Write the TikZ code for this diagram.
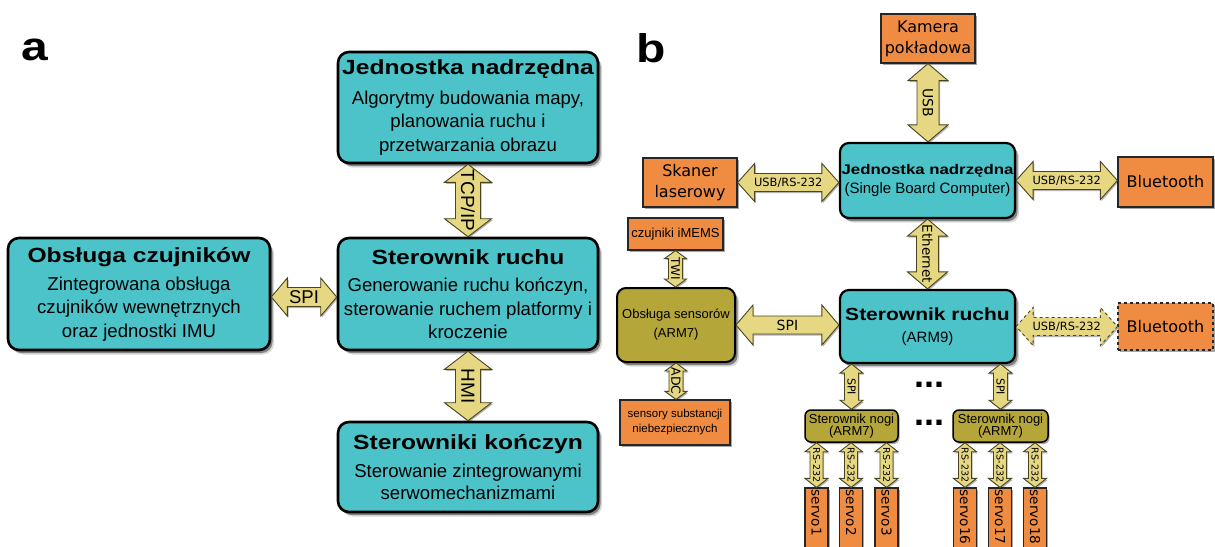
\documentclass[tikz,border=0pt]{standalone}
\usepackage{fontspec}
\setmainfont{Liberation Sans}
\newfontfamily\hd{Liberation Sans}[FakeStretch=1.2]
\newfontfamily\dv{DejaVu Sans}
\usetikzlibrary{shadows,calc}
\definecolor{cyanb}{HTML}{4BC3C9}
\definecolor{orng}{HTML}{F08C41}
\definecolor{olv}{HTML}{B5A63A}
\definecolor{arrf}{HTML}{E6D883}
\definecolor{arrd}{HTML}{4A4420}
\tikzset{
  shd/.style={drop shadow={shadow xshift=2.5pt,shadow yshift=-3pt,opacity=.4,fill=black},
              drop shadow={shadow xshift=4pt,shadow yshift=-4.5pt,opacity=.15,fill=black}},
  shds/.style={drop shadow={shadow xshift=1.5pt,shadow yshift=-2pt,opacity=.35,fill=black}},
  cboxa/.style={shd,draw=black,fill=cyanb,line width=2.6pt,rounded corners=11pt,inner sep=0pt,align=center,
                font=\fontsize{18.6}{23.5}\selectfont},
  cboxb/.style={shd,draw=black,fill=cyanb,line width=2.2pt,rounded corners=9pt,inner sep=0pt,align=center,
                font=\fontsize{15}{19}\selectfont},
  olbox/.style={shd,draw=black,fill=olv,line width=2pt,rounded corners=9pt,inner sep=0pt,align=center,
                font=\fontsize{13}{19}\selectfont},
  olboxs/.style={shds,draw=black,fill=olv,line width=1.5pt,rounded corners=6pt,inner sep=0pt,align=center,
                font=\fontsize{13}{12.5}\selectfont},
  obox/.style={shds,draw=black!85,fill=orng,line width=1.2pt,inner sep=0pt,align=center,
               font=\dv\fontsize{16}{21}\selectfont},
  oboxs/.style={shds,draw=black!85,fill=orng,line width=1.2pt,inner sep=0pt,align=center,
               font=\fontsize{13}{15}\selectfont},
  arr/.style={fill=arrf,draw=arrd,line width=0.9pt,line join=miter,
              drop shadow={shadow xshift=1.2pt,shadow yshift=-1.5pt,opacity=.3,fill=black}},
  lbl/.style={inner sep=0pt,font=\hd\bfseries\fontsize{40}{40}\selectfont},
  dots/.style={inner sep=0pt,font=\bfseries\fontsize{36}{36}\selectfont},
  servo/.style={shds,draw=black!85,fill=orng,line width=1.2pt,inner sep=0pt,minimum width=23,minimum height=80},
  servotxt/.style={inner sep=0pt,rotate=-90,anchor=west,font=\dv\fontsize{13.6}{14}\selectfont}
}
% vertical block double arrow: [opts]{top}{bottom}{head half}{shaft half}{head len}{font}{label}{name}
\newcommand\varrow[9][]{%
  \draw[arr,#1] let \p1=(#2), \p2=(#3) in
    (\x1,\y1) -- (\x1+#4,\y1-#6) -- (\x1+#5,\y1-#6) -- (\x1+#5,\y2+#6) -- (\x1+#4,\y2+#6) -- (\x1,\y2)
    -- (\x1-#4,\y2+#6) -- (\x1-#5,\y2+#6) -- (\x1-#5,\y1-#6) -- (\x1-#4,\y1-#6) -- cycle;
  \path let \p1=(#2), \p2=(#3) in node[rotate=-90,inner sep=0pt,font=#7] (#9) at (\x1,{0.5*(\y1+\y2)}) {#8};
}
% horizontal block double arrow: [opts]{left}{right}{head half}{shaft half}{head len}{font}{label}{name}
\newcommand\harrow[9][]{%
  \draw[arr,#1] let \p1=(#2), \p2=(#3) in
    (\x1,\y1) -- (\x1+#6,\y1+#4) -- (\x1+#6,\y1+#5) -- (\x2-#6,\y1+#5) -- (\x2-#6,\y1+#4) -- (\x2,\y1)
    -- (\x2-#6,\y1-#4) -- (\x2-#6,\y1-#5) -- (\x1+#6,\y1-#5) -- (\x1+#6,\y1-#4) -- cycle;
  \path let \p1=(#2), \p2=(#3) in node[inner sep=0pt,font=#7] (#9) at ({0.5*(\x1+\x2)},\y1) {#8};
}
\begin{document}
\begin{tikzpicture}[x=1pt,y=-1pt]
\useasboundingbox (0,0) rectangle (1215,546);
\clip (0,0) rectangle (1215,546);
% ---------------- panel a ----------------
\node[lbl] (la) at (35,50) {a};
\node[cboxa,minimum width=260,minimum height=111] (topA) at (468,107.5)
  {{\hd\bfseries\fontsize{20.5}{24}\selectfont Jednostka nadrzędna}\\[6pt]Algorytmy budowania mapy,\\planowania ruchu i\\przetwarzania obrazu};
\node[cboxa,minimum width=260,minimum height=112] (midA) at (468,294)
  {{\hd\bfseries\fontsize{20.5}{24}\selectfont Sterownik ruchu}\\[4pt]Generowanie ruchu kończyn,\\sterowanie ruchem platformy i\\kroczenie};
\node[cboxa,minimum width=262,minimum height=112] (leftA) at (139,294)
  {{\hd\bfseries\fontsize{20.5}{24}\selectfont Obsługa czujników}\\[4.5pt]Zintegrowana obsługa\\czujników wewnętrznych\\oraz jednostki IMU};
\node[cboxa,minimum width=260,minimum height=90,font=\fontsize{18.6}{22}\selectfont] (botA) at (468,467)
  {{\hd\bfseries\fontsize{20.5}{24}\selectfont Sterowniki kończyn}\\[6pt]Sterowanie zintegrowanymi\\serwomechanizmami};
\varrow{topA.south}{midA.north}{23.5pt}{12.5pt}{18pt}{\fontsize{19}{19}\selectfont}{TCP/IP}{tTCP}
\varrow{midA.south}{botA.north}{23.5pt}{12.5pt}{18pt}{\fontsize{19}{19}\selectfont}{HMI}{tHMI}
\harrow{$(leftA.east)+(0,3)$}{$(midA.west)+(0,3)$}{19pt}{9.5pt}{16pt}{\fontsize{18.5}{18.5}\selectfont}{SPI}{tSPIa}
% ---------------- panel b ----------------
\node[lbl] (lb) at (651,48) {b};
\node[obox,minimum width=94,minimum height=49] (kam) at (928,38.5) {Kamera\\pokładowa};
\node[cboxb,minimum width=175,minimum height=75] (jb) at (927.5,180.5)
  {{\hd\bfseries\fontsize{14}{16}\selectfont Jednostka nadrzędna}\\(Single Board Computer)};
\node[obox,minimum width=94,minimum height=49] (skan) at (690,182.5) {Skaner\\laserowy};
\node[obox,minimum width=95,minimum height=50] (bt1) at (1165.5,182) {Bluetooth};
\node[oboxs,minimum width=95,minimum height=32] (imems) at (675.5,234) {czujniki iMEMS};
\node[olbox,minimum width=118,minimum height=74] (obs) at (676,325) {Obsługa sensorów\\(ARM7)};
\node[cboxb,minimum width=175,minimum height=73] (srb) at (927.5,326.5)
  {{\hd\bfseries\fontsize{17.5}{20}\selectfont Sterownik ruchu}\\[3pt](ARM9)};
\node[obox,dashed,minimum width=95,minimum height=47] (bt2) at (1165.5,326.5) {Bluetooth};
\node[oboxs,minimum width=110,minimum height=45,font=\fontsize{11.5}{15}\selectfont] (sens) at (675,422.5)
  {sensory substancji\\niebezpiecznych};
\node[olboxs,minimum width=93,minimum height=32] (ngL) at (851.5,426) {Sterownik nogi\\(ARM7)};
\node[olboxs,minimum width=95,minimum height=32] (ngR) at (1000.5,426) {Sterownik nogi\\(ARM7)};
\node[dots] (d1) at (929,385) {...};
\node[dots] (d2) at (929,423) {...};
\node[servo] (s1) at (816.5,528) {};
\node[servo] (s2) at (851,528) {};
\node[servo] (s3) at (886.5,528) {};
\node[servo] (s16) at (965,528) {};
\node[servo] (s17) at (1000,528) {};
\node[servo] (s18) at (1035,528) {};
\node[servotxt] (t1) at ([yshift=-2pt]s1.north) {servo1};
\node[servotxt] (t2) at ([yshift=-2pt]s2.north) {servo2};
\node[servotxt] (t3) at ([yshift=-2pt]s3.north) {servo3};
\node[servotxt] (t16) at ([yshift=-2pt]s16.north) {servo16};
\node[servotxt] (t17) at ([yshift=-2pt]s17.north) {servo17};
\node[servotxt] (t18) at ([yshift=-2pt]s18.north) {servo18};
% arrows b
\varrow{kam.south}{jb.north}{20pt}{11pt}{17pt}{\dv\fontsize{14}{14}\selectfont}{USB}{tUSB}
\harrow{skan.east}{jb.west}{19pt}{9pt}{17pt}{\dv\fontsize{11.4}{12}\selectfont}{USB/RS-232}{tUR1}
\harrow{jb.east}{bt1.west}{19pt}{9pt}{17pt}{\dv\fontsize{11.4}{12}\selectfont}{USB/RS-232}{tUR2}
\varrow{jb.south}{srb.north}{20pt}{11pt}{17pt}{\dv\fontsize{13.5}{14}\selectfont}{Ethernet}{tEth}
\varrow{imems.south}{imems.south |- obs.north}{11pt}{7pt}{8pt}{\dv\fontsize{12}{12}\selectfont}{TWI}{tTWI}
\harrow{obs.east}{srb.west}{20pt}{9pt}{17pt}{\dv\fontsize{14}{14}\selectfont}{SPI}{tSPIb}
\harrow[dashed]{srb.east}{bt2.west}{19pt}{9pt}{17pt}{\dv\fontsize{11.4}{12}\selectfont}{USB/RS-232}{tUR3}
\varrow{obs.south}{obs.south |- sens.north}{11pt}{7pt}{8pt}{\dv\fontsize{12.5}{12}\selectfont}{ADC}{tADC}
\varrow{ngL.north |- srb.south}{ngL.north}{11.5pt}{7pt}{9pt}{\dv\fontsize{11}{11}\selectfont}{SPI}{tSPIL}
\varrow{ngR.north |- srb.south}{ngR.north}{11.5pt}{7pt}{9pt}{\dv\fontsize{11}{11}\selectfont}{SPI}{tSPIR}
\varrow{s1.north |- ngL.south}{s1.north}{11.5pt}{6.5pt}{9pt}{\dv\fontsize{9.5}{10}\selectfont}{RS-232}{r1}
\varrow{s2.north |- ngL.south}{s2.north}{11.5pt}{6.5pt}{9pt}{\dv\fontsize{9.5}{10}\selectfont}{RS-232}{r2}
\varrow{s3.north |- ngL.south}{s3.north}{11.5pt}{6.5pt}{9pt}{\dv\fontsize{9.5}{10}\selectfont}{RS-232}{r3}
\varrow{s16.north |- ngR.south}{s16.north}{11.5pt}{6.5pt}{9pt}{\dv\fontsize{9.5}{10}\selectfont}{RS-232}{r16}
\varrow{s17.north |- ngR.south}{s17.north}{11.5pt}{6.5pt}{9pt}{\dv\fontsize{9.5}{10}\selectfont}{RS-232}{r17}
\varrow{s18.north |- ngR.south}{s18.north}{11.5pt}{6.5pt}{9pt}{\dv\fontsize{9.5}{10}\selectfont}{RS-232}{r18}
\end{tikzpicture}
\end{document}
